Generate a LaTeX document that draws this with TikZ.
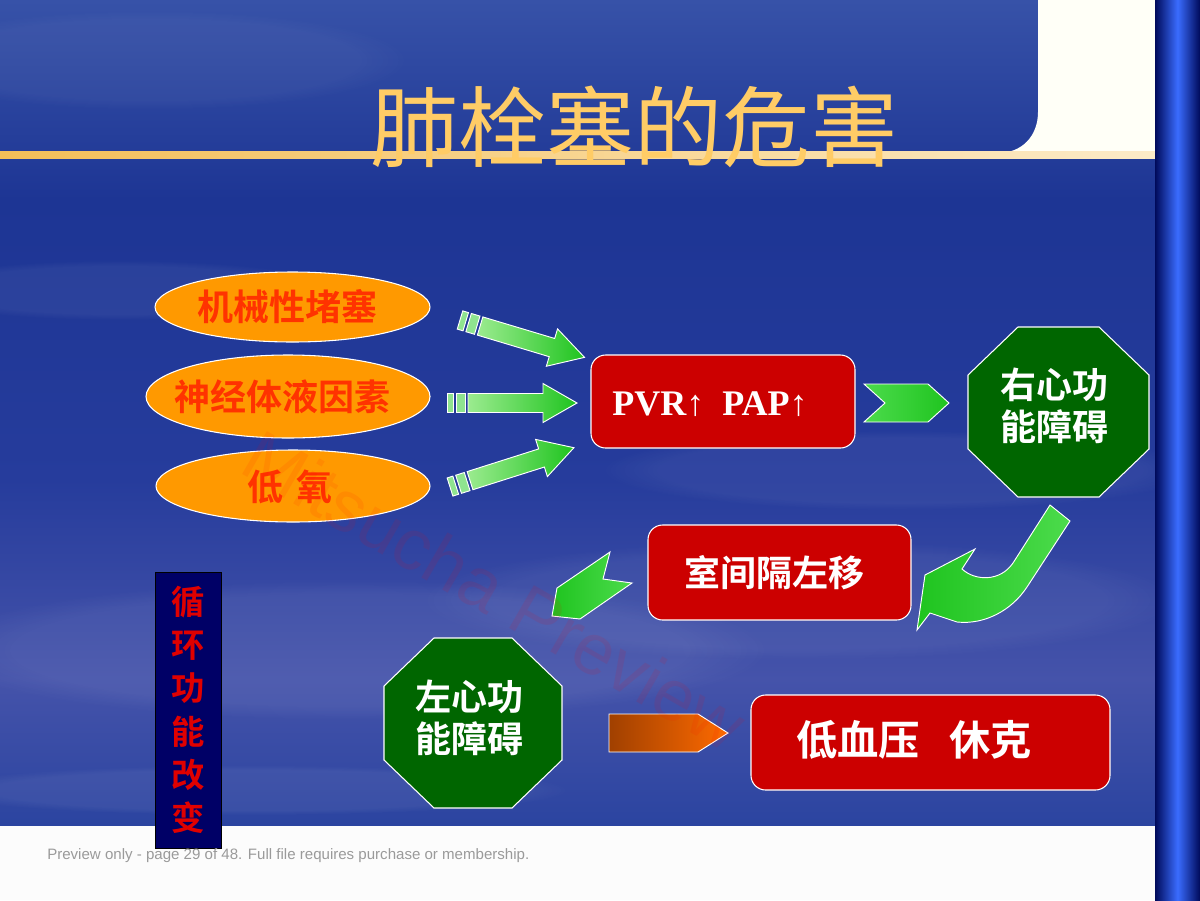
\documentclass[tikz,border=0pt]{standalone}
\usepackage{fontspec}
\usetikzlibrary{shapes.geometric,fadings}
\newfontfamily\cjk{Noto Sans CJK SC}[BoldFont={Noto Sans CJK SC Bold}]
\newfontfamily\timesb{Liberation Serif}
\newfontfamily\arial{Liberation Sans}
\definecolor{bgA}{HTML}{3752A8}
\definecolor{bgB}{HTML}{1D3594}
\definecolor{bgC}{HTML}{263C9C}
\definecolor{bgD}{HTML}{4553AA}
\definecolor{bgE}{HTML}{2B44A0}
\definecolor{barDark}{HTML}{000A5A}
\definecolor{barLight}{HTML}{3A6CFF}
\definecolor{goldA}{HTML}{F4BE58}
\definecolor{goldB}{HTML}{FCEBC8}
\definecolor{titlegold}{HTML}{FFCC66}
\definecolor{ovalorange}{HTML}{FF9900}
\definecolor{ovaltext}{HTML}{FF3300}
\definecolor{boxred}{HTML}{CC0000}
\definecolor{octgreen}{HTML}{006600}
\definecolor{navybox}{HTML}{000066}
\definecolor{vtext}{HTML}{E00000}
\definecolor{gLight}{HTML}{9BEB8F}
\definecolor{gDark}{HTML}{1FC41F}
\definecolor{gMid}{HTML}{4CDB4C}
\definecolor{stripeg}{HTML}{8FE48F}
\definecolor{orA}{HTML}{A04000}
\definecolor{orB}{HTML}{FF6A00}
\definecolor{footgray}{HTML}{9A9A9A}
\tikzset{
  oval/.style={ellipse, fill=ovalorange, draw=white, line width=0.8pt, inner sep=0pt},
  ovaltxt/.style={font=\cjk\bfseries\fontsize{27}{30}\selectfont, text=ovaltext, inner sep=0pt},
  redbox/.style={rectangle, rounded corners=11pt, fill=boxred, draw=white, line width=0.8pt, inner sep=0pt},
  whitetext/.style={text=white, font=\cjk\bfseries\fontsize{27}{31.5}\selectfont, align=center, inner sep=0pt},
  octfill/.style={fill=octgreen, draw=white, line width=0.8pt},
  greenarrow/.style={draw=white, line width=0.7pt, left color=gLight, right color=gDark},
  stripe/.style={draw=white, line width=0.7pt, fill=stripeg},
  cloud/.style={fill=white, path fading=circle with fuzzy edge 20 percent},
}
\newcommand\stripearrow[2]{%
  \begin{scope}[shift={#1},rotate=#2]
    \path[stripe] (0,-9.5) rectangle (6,9.5);
    \path[stripe] (9,-9.5) rectangle (18,9.5);
    \path[greenarrow] (21,-9.5) -- (96,-9.5) -- (96,-19.5) -- (130,0) -- (96,19.5) -- (96,9.5) -- (21,9.5) -- cycle;
  \end{scope}}
\begin{document}
\begin{tikzpicture}[x=0.75pt,y=-0.75pt]
\useasboundingbox (0,0) rectangle (1200,900);
% background
\fill[top color=bgA, bottom color=bgB] (0,0) rectangle (1155,200);
\fill[top color=bgB, bottom color=bgC] (0,199) rectangle (1155,480);
\fill[top color=bgC, bottom color=bgD] (0,479) rectangle (1155,680);
\fill[top color=bgD, bottom color=bgE] (0,679) rectangle (1155,826);
% soft cloud streaks
\fill[cloud, opacity=0.05] (120,290) ellipse [x radius=220, y radius=30];
\fill[cloud, opacity=0.06] (350,650) ellipse [x radius=420, y radius=70];
\fill[cloud, opacity=0.05] (800,600) ellipse [x radius=380, y radius=60];
\fill[cloud, opacity=0.06] (250,790) ellipse [x radius=320, y radius=25];
\fill[cloud, opacity=0.05] (900,470) ellipse [x radius=300, y radius=40];
\fill[cloud, opacity=0.04] (150,60) ellipse [x radius=260, y radius=50];
% top-right white area
\fill[fill=white!97!yellow] (1038,0) -- (1038,112) .. controls (1038,136) and (1022,153) .. (998,153) -- (1155,153) -- (1155,0) -- cycle;
% gold line
\fill[left color=goldA, right color=goldB] (0,151.5) rectangle (1155,158.5);
% bottom white strip
\fill[white!98!gray] (0,826) rectangle (1155,900);
% right bar
\fill[left color=barDark, right color=barDark, middle color=barLight] (1155,0) rectangle (1200,900);
% title
\node[text=titlegold, font=\cjk\fontsize{66}{70}\selectfont, inner sep=0pt] (title) at (634,127) {肺栓塞的危害};
% ovals
\node[oval, minimum width=275*0.75pt, minimum height=70*0.75pt] (o1) at (292.5,307) {};
\node[ovaltxt] (o1t) at (287,307) {机械性堵塞};
\node[oval, minimum width=284*0.75pt, minimum height=83*0.75pt] (o2) at (288,396.5) {};
\node[ovaltxt] (o2t) at (282,397) {神经体液因素};
\node[oval, minimum width=274*0.75pt, minimum height=72*0.75pt] (o3) at (293,486) {};
\node[ovaltxt] (o3t) at (290,487) {低\hspace{10pt}氧};
% striped arrows
\stripearrow{(460,320)}{-16.7}
\stripearrow{(447,403)}{0}
\stripearrow{(450,487)}{17.6}
% PVR box
\node[redbox, minimum width=264*0.75pt, minimum height=93*0.75pt] (pvr) at (723,401.5) {};
\node[text=white, font=\timesb\bfseries\fontsize{27}{30}\selectfont, inner sep=0pt] (pvrtext) at (710,404) {PVR↑\ \ PAP↑};
% chevron arrow
\path[draw=white, line width=0.7pt, left color=gMid, right color=gDark] (864,384) -- (928,384) -- (949,403) -- (928,422) -- (864,422) -- (885,403) -- cycle;
% right octagon
\path[octfill] (968,375) -- (968,449) -- (1018,497) -- (1099,497) -- (1149,449) -- (1149,375) -- (1099,327) -- (1018,327) -- cycle;
\node[whitetext] (rheart) at (1054,406) {右心功\\能障碍};
% curved arrow
\path[draw=white, line width=0.7pt, left color=gDark, right color=gMid]
  (1050,505) -- (1070,521) -- (1027,587) .. controls (1012,610) and (985,625) .. (957,622)
  -- (930,613) -- (917,630) -- (925,575) -- (975,549) -- (962,569)
  .. controls (975,581) and (1000,582) .. (1013,563) -- cycle;
% septum box
\node[redbox, minimum width=263*0.75pt, minimum height=95*0.75pt] (septum) at (779.5,572.5) {};
\node[whitetext] (septext) at (774,573) {室间隔左移};
% small green arrow
\path[draw=white, line width=0.7pt, left color=gDark, right color=gMid] (610,552) -- (557,588) -- (552,616) -- (580,619) -- (632,583) -- (603,579) -- cycle;
% left octagon
\path[octfill] (384,686) -- (384,760) -- (434,808) -- (512,808) -- (562,760) -- (562,686) -- (512,638) -- (434,638) -- cycle;
\node[whitetext] (lheart) at (469,718) {左心功\\能障碍};
% orange arrow
\path[draw=white, line width=0.7pt, left color=orA, right color=orB] (609,714) -- (698,714) -- (728,733) -- (698,752) -- (609,752) -- cycle;
% shock box
\node[redbox, minimum width=359*0.75pt, minimum height=95*0.75pt] (shock) at (930.5,742.5) {};
\node[text=white, font=\cjk\bfseries\fontsize{31}{33}\selectfont, inner sep=0pt] (shocktext) at (914,740) {低血压\hspace{22pt}休克};
% vertical box
\node[rectangle, fill=navybox, draw=black, line width=0.6pt, minimum width=66*0.75pt, minimum height=276*0.75pt, inner sep=0pt] (circ) at (188,710) {};
\node[text=vtext, font=\cjk\bfseries\fontsize{25}{32.5}\selectfont, align=center, inner sep=0pt] (circtext) at (188,710) {循\\环\\功\\能\\改\\变};
% footer
\node[anchor=west, text=footgray, font=\arial\fontsize{11.3}{13}\selectfont, inner sep=0pt] (footer) at (47,856) {Preview only - page 29 of 48. Full file requires purchase or membership.};
% watermark
\node[text=red, opacity=0.09, rotate=-30, font=\arial\fontsize{54}{54}\selectfont, inner sep=0pt] (wm) at (495,590) {Mitsucha Preview};
\end{tikzpicture}
\end{document}
